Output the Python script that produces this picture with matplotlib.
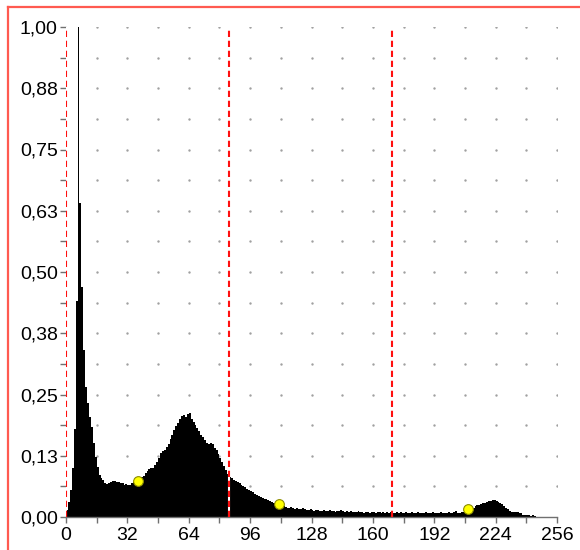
import matplotlib
matplotlib.use("Agg")
import matplotlib.pyplot as plt
import numpy as np

# ---- data ----
hist_values = [
    0.014, 0.030, 0.055, 0.100, 0.180, 0.440, 1.000, 0.640, 0.470, 0.340, 0.265, 0.233, 0.204, 0.184, 0.151, 0.122,
    0.102, 0.086, 0.080, 0.076, 0.070, 0.068, 0.069, 0.072, 0.074, 0.073, 0.071, 0.072, 0.070, 0.069, 0.066, 0.067,
    0.065, 0.066, 0.069, 0.071, 0.073, 0.075, 0.079, 0.081, 0.083, 0.090, 0.094, 0.097, 0.100, 0.101, 0.106, 0.113,
    0.120, 0.131, 0.134, 0.137, 0.143, 0.149, 0.160, 0.168, 0.178, 0.186, 0.192, 0.200, 0.207, 0.209, 0.205, 0.211,
    0.212, 0.200, 0.194, 0.188, 0.181, 0.176, 0.168, 0.163, 0.157, 0.152, 0.150, 0.151, 0.148, 0.141, 0.137, 0.128,
    0.120, 0.113, 0.104, 0.096, 0.088, 0.082, 0.080, 0.076, 0.073, 0.071, 0.070, 0.065, 0.063, 0.061, 0.058, 0.055,
    0.053, 0.051, 0.046, 0.044, 0.042, 0.040, 0.039, 0.037, 0.036, 0.034, 0.033, 0.030, 0.028, 0.026, 0.025, 0.024,
    0.022, 0.023, 0.021, 0.019, 0.018, 0.020, 0.018, 0.017, 0.019, 0.017, 0.016, 0.018, 0.016, 0.015, 0.014, 0.016,
    0.014, 0.013, 0.015, 0.014, 0.013, 0.012, 0.015, 0.013, 0.012, 0.014, 0.013, 0.012, 0.011, 0.013, 0.012, 0.014,
    0.012, 0.011, 0.012, 0.010, 0.012, 0.011, 0.010, 0.011, 0.012, 0.010, 0.011, 0.009, 0.011, 0.010, 0.009, 0.011,
    0.010, 0.009, 0.010, 0.011, 0.009, 0.010, 0.008, 0.010, 0.009, 0.011, 0.009, 0.008, 0.010, 0.009, 0.010, 0.008,
    0.009, 0.010, 0.008, 0.009, 0.010, 0.008, 0.009, 0.010, 0.009, 0.008, 0.009, 0.010, 0.008, 0.009, 0.008, 0.010,
    0.009, 0.008, 0.009, 0.010, 0.008, 0.009, 0.008, 0.010, 0.009, 0.008, 0.010, 0.012, 0.009, 0.008, 0.010, 0.011,
    0.012, 0.014, 0.016, 0.018, 0.019, 0.022, 0.024, 0.025, 0.026, 0.028, 0.029, 0.030, 0.032, 0.033, 0.034, 0.034,
    0.033, 0.030, 0.029, 0.027, 0.022, 0.019, 0.017, 0.012, 0.011, 0.010, 0.010, 0.011, 0.009, 0.008, 0.005, 0.004,
    0.004, 0.004, 0.003, 0.004, 0.003, 0.000, 0.000, 0.000, 0.000, 0.000, 0.000, 0.000, 0.000, 0.000, 0.000, 0.000,
]
threshold_lines = [0, 85, 170]
marker_x = [37.5, 111, 209.5]
marker_y = [0.074, 0.027, 0.016]
x_tick_values = [0, 32, 64, 96, 128, 160, 192, 224, 256]
x_tick_labels = ["0", "32", "64", "96", "128", "160", "192", "224", "256"]
y_tick_values = [0.0, 0.125, 0.25, 0.375, 0.5, 0.625, 0.75, 0.875, 1.0]
y_tick_labels = ["0,00", "0,13", "0,25", "0,38", "0,50", "0,63", "0,75", "0,88", "1,00"]

plt.rcParams['font.family'] = ['Liberation Sans', 'DejaVu Sans']

W, H = 580, 550
fig = plt.figure(figsize=(W / 100, H / 100), dpi=100)
fig.patch.set_facecolor('white')

# red frame (top and left visible)
border_color = '#ff5a50'
fig.add_artist(plt.Line2D([7.5 / W, 1.0], [1 - 6.5 / H, 1 - 6.5 / H], transform=fig.transFigure,
                          color=border_color, lw=1.6))
fig.add_artist(plt.Line2D([7.5 / W, 7.5 / W], [0.0, 1 - 6.5 / H], transform=fig.transFigure,
                          color=border_color, lw=1.6))

left_px, right_px, top_px, bottom_px = 66, 557, 27, 517
ax = fig.add_axes([left_px / W, (H - bottom_px) / H, (right_px - left_px) / W, (bottom_px - top_px) / H])
ax.set_xlim(0, 256)
ax.set_ylim(0, 1.0)
ax.set_facecolor('none')

# grid dots
gx = np.arange(16, 257, 16)
gy = np.arange(1, 17) / 16
GX, GY = np.meshgrid(gx, gy)
ax.scatter(GX.ravel(), GY.ravel(), s=3, color='#a0a0a0', linewidths=0, zorder=1)

# histogram (single filled step polygon)
edges = np.arange(len(hist_values) + 1)
ax.stairs(hist_values, edges, fill=True, color='black', linewidth=0, zorder=2)

# threshold lines
for t in threshold_lines:
    ax.axvline(t, color='white', lw=1.5, zorder=3)
    ax.axvline(t, color='#ff1010', lw=1.5, linestyle=(0, (3.0, 1.8)), zorder=4)

# markers
ax.plot(marker_x, marker_y, 'o', markersize=7, markerfacecolor='#ffff00',
        markeredgecolor='#8a8a00', markeredgewidth=0.8, zorder=5, clip_on=False)

for s in ['top', 'right', 'left']:
    ax.spines[s].set_visible(False)
ax.spines['bottom'].set_color('#707070')
ax.spines['bottom'].set_linewidth(1.0)

ax.set_xticks(x_tick_values)
ax.set_xticklabels(x_tick_labels)
ax.set_xticks(np.arange(16, 256, 32), minor=True)
ax.set_yticks(y_tick_values)
ax.set_yticklabels(y_tick_labels)
ax.set_yticks(np.arange(1, 16, 2) / 16, minor=True)

ax.tick_params(axis='both', which='both', length=4, width=1, color='#707070',
               labelsize=14, labelcolor='black', direction='out')
ax.tick_params(axis='x', pad=3)
ax.tick_params(axis='y', pad=2)

fig.savefig('out.png', dpi=100)
